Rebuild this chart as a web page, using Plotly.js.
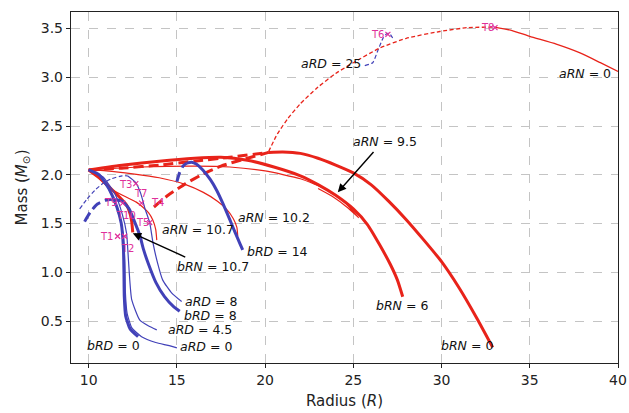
<!DOCTYPE html>
<html><head><meta charset="utf-8">
<script src="https://cdn.plot.ly/plotly-3.0.1.min.js"></script>
<style>html,body{margin:0;padding:0;background:#fff}#chart{width:629px;height:413px}</style>
</head><body><div id="chart"></div>
<script>
// ---- data (radius R, mass M_sun) ----
const bRN0_dash_x = [10.0, 12.0, 14.0, 16.0, 18.0, 20.2];
const bRN0_dash_y = [2.05, 2.07, 2.10, 2.14, 2.18, 2.23];
const bRN0_x = [20.2, 21.0, 22.0, 23.0, 24.0, 25.0, 26.0, 27.0, 28.0, 29.0, 30.0, 31.0, 32.0, 32.9];
const bRN0_y = [2.23, 2.235, 2.22, 2.17, 2.10, 2.02, 1.90, 1.73, 1.54, 1.33, 1.11, 0.84, 0.53, 0.23];
const unstThick_x = [13.7, 14.5, 15.5, 16.5, 17.5, 18.8, 20.2];
const unstThick_y = [1.67, 1.79, 1.91, 2.01, 2.09, 2.16, 2.23];
const bRN6_x = [10.0, 12.0, 14.0, 16.0, 17.5, 19.0, 20.5, 22.0, 23.0, 24.0, 25.0, 25.8, 26.5, 27.1, 27.5, 27.8];
const bRN6_y = [2.05, 2.10, 2.14, 2.17, 2.18, 2.15, 2.08, 1.99, 1.90, 1.79, 1.65, 1.49, 1.28, 1.08, 0.92, 0.75];
const aRN95_x = [10.0, 13.0, 16.0, 18.0, 20.0, 22.0, 23.5, 24.5, 25.3, 24.7, 23.8, 23.0];
const aRN95_y = [2.05, 2.08, 2.09, 2.08, 2.04, 1.96, 1.85, 1.72, 1.56, 1.66, 1.78, 1.86];
const aRN102_x = [10.0, 11.0, 12.5, 14.0, 15.5, 16.5, 17.3, 17.8, 18.2, 18.4, 18.45];
const aRN102_y = [2.05, 2.04, 2.01, 1.97, 1.90, 1.82, 1.73, 1.65, 1.55, 1.46, 1.37];
const aRN107_x = [10.0, 10.5, 11.2, 12.15, 12.7, 13.06, 13.4, 13.63, 13.8, 13.86];
const aRN107_y = [2.05, 1.98, 1.86, 1.77, 1.72, 1.67, 1.61, 1.54, 1.44, 1.33];
const bRN107_x = [10.0, 10.6, 11.2, 11.7, 12.15, 12.35, 12.44, 12.5];
const bRN107_y = [2.05, 1.97, 1.87, 1.78, 1.69, 1.60, 1.52, 1.41];
const aRN0_dash_x = [20.2, 20.7, 21.3, 22.0, 23.0, 24.0, 25.0, 26.5, 28.0, 29.9, 31.5, 33.0];
const aRN0_dash_y = [2.24, 2.42, 2.58, 2.73, 2.90, 3.04, 3.15, 3.30, 3.40, 3.47, 3.51, 3.515];
const aRN0_x = [33.0, 34.0, 35.0, 36.5, 37.85, 39.0, 40.0];
const aRN0_y = [3.515, 3.48, 3.42, 3.34, 3.25, 3.15, 3.06];

const bRD0_x = [10.0, 10.6, 11.2, 11.6, 11.85, 11.97, 12.0, 12.02, 12.1, 12.35, 12.8];
const bRD0_y = [2.05, 2.00, 1.84, 1.67, 1.50, 1.25, 1.00, 0.75, 0.55, 0.42, 0.34];
const aRD0_x = [10.0, 10.7, 11.3, 11.7, 11.95, 12.05, 12.08, 12.18, 12.45, 13.0, 13.8, 14.5, 15.0];
const aRD0_y = [2.05, 1.98, 1.80, 1.60, 1.40, 1.10, 0.80, 0.58, 0.43, 0.34, 0.28, 0.25, 0.225];
const aRD45_x = [10.0, 10.8, 11.5, 11.9, 12.15, 12.22, 12.3, 12.44, 12.9, 13.4, 13.86];
const aRD45_y = [2.05, 1.98, 1.80, 1.60, 1.40, 1.23, 1.00, 0.72, 0.51, 0.45, 0.41];
const aRD8_dash_x = [9.49, 9.9, 10.4, 10.8, 11.3, 11.9, 12.2];
const aRD8_dash_y = [1.65, 1.75, 1.85, 1.91, 1.96, 1.99, 1.99];
const aRD8_x = [12.2, 12.67, 12.95, 13.2, 13.46, 13.65, 13.9, 14.2, 14.7, 15.27];
const aRD8_y = [1.99, 1.92, 1.81, 1.65, 1.51, 1.30, 1.10, 0.92, 0.79, 0.70];
const bRD8_dash_x = [9.77, 10.1, 10.5, 11.0, 11.3];
const bRD8_dash_y = [1.52, 1.62, 1.70, 1.74, 1.75];
const bRD8_x = [11.3, 11.9, 12.3, 12.6, 12.9, 13.1, 13.4, 13.8, 14.3, 14.8, 15.16];
const bRD8_y = [1.75, 1.73, 1.65, 1.52, 1.38, 1.24, 1.08, 0.90, 0.75, 0.65, 0.60];
const bRD14_dash_x = [15.0, 15.15, 15.35, 15.55];
const bRD14_dash_y = [1.93, 2.02, 2.09, 2.12];
const bRD14_x = [15.55, 15.84, 16.1, 16.47, 16.9, 17.26, 17.6, 18.0, 18.3, 18.56, 18.73];
const bRD14_y = [2.12, 2.13, 2.11, 2.05, 1.95, 1.84, 1.71, 1.54, 1.41, 1.30, 1.23];
const aRD25_x = [25.65, 26.1, 26.4, 26.68, 26.9, 27.05, 27.24];
const aRD25_y = [3.12, 3.15, 3.28, 3.40, 3.45, 3.45, 3.40];

// transition point markers and labels
const tMark_x = [11.64, 12.04, 12.67, 13.0, 13.46, 11.93, 26.96, 33.03];
const tMark_y = [1.37, 1.37, 1.91, 1.71, 1.51, 1.71, 3.44, 3.51];
const tLabels = ['T1', 'T2', 'T3', 'T4', 'T5', 'T7', 'T9', 'T10', 'T6', 'T8'];
const tLabel_x = [11.0, 12.21, 12.10, 13.91, 13.06, 12.95, 11.25, 12.10, 26.39, 32.58];
const tLabel_y = [1.37, 1.24, 1.90, 1.72, 1.51, 1.81, 1.72, 1.58, 3.44, 3.51];

// curve labels
const curveLabels = ['aRD = 25', 'aRN = 0', 'aRN = 9.5', 'aRN = 10.2', 'aRN = 10.7', 'bRD = 14', 'bRN = 10.7', 'bRN = 6', 'bRN = 0', 'aRD = 8', 'bRD = 8', 'aRD = 4.5', 'bRD = 0', 'aRD = 0'];
const curveLabel_x = [23.73, 38.13, 26.79, 20.49, 16.18, 20.72, 17.03, 27.75, 31.44, 16.92, 16.92, 16.3, 11.42, 16.64];
const curveLabel_y = [3.14, 3.04, 2.34, 1.56, 1.44, 1.21, 1.06, 0.66, 0.25, 0.70, 0.56, 0.41, 0.25, 0.24];

// arrows: head and tail
const arrowHead_x = [24.12, 12.5];
const arrowHead_y = [1.82, 1.40];
const arrowTail_x = [26.22, 15.56];
const arrowTail_y = [2.25, 1.15];

// ---- styles ----
const RED = '#e8231a', BLUE = '#4141b8', PINK = '#e0309a';
function line(x, y, color, w, dash) {
  return {x: x, y: y, mode: 'lines', type: 'scatter', hoverinfo: 'skip', showlegend: false,
          line: {color: color, width: w, dash: dash || 'solid', shape: 'spline', smoothing: 0.5}};
}
const THICKDASH = '10px,5px', THINDASH = '4px,2.5px';
const traces = [
  line(aRD25_x, aRD25_y, BLUE, 1.2, THINDASH),
  line(aRN0_dash_x, aRN0_dash_y, RED, 1.3, THINDASH),
  line(aRN0_x, aRN0_y, RED, 1.3),
  line(bRN0_dash_x, bRN0_dash_y, RED, 3, THICKDASH),
  line(unstThick_x, unstThick_y, RED, 3, THICKDASH),
  line(bRN0_x, bRN0_y, RED, 3),
  line(bRN6_x, bRN6_y, RED, 3),
  line(aRN95_x, aRN95_y, RED, 1.2),
  line(aRN102_x, aRN102_y, RED, 1.2),
  line(aRN107_x, aRN107_y, RED, 1.2),
  line(bRN107_x, bRN107_y, RED, 3),
  line(bRD14_dash_x, bRD14_dash_y, BLUE, 3, THICKDASH),
  line(bRD14_x, bRD14_y, BLUE, 3),
  line(aRD8_dash_x, aRD8_dash_y, BLUE, 1.2, THINDASH),
  line(aRD8_x, aRD8_y, BLUE, 1.2),
  line(bRD8_dash_x, bRD8_dash_y, BLUE, 3, THICKDASH),
  line(bRD8_x, bRD8_y, BLUE, 3),
  line(aRD45_x, aRD45_y, BLUE, 1.2),
  line(aRD0_x, aRD0_y, BLUE, 1.2),
  line(bRD0_x, bRD0_y, BLUE, 3),
  {x: tMark_x, y: tMark_y, mode: 'markers', type: 'scatter', showlegend: false, hoverinfo: 'skip',
   marker: {symbol: 'x-thin', size: 5, line: {color: PINK, width: 1.2}}}
];

const annotations = [];
curveLabels.forEach((t, i) => {
  const m = t.split(' = ');
  annotations.push({x: curveLabel_x[i], y: curveLabel_y[i], xref: 'x', yref: 'y', showarrow: false,
    text: '<i>' + m[0] + '</i> = ' + m[1], font: {family: 'DejaVu Sans', size: 12.5, color: '#111'}});
});
tLabels.forEach((t, i) => {
  annotations.push({x: tLabel_x[i], y: tLabel_y[i], xref: 'x', yref: 'y', showarrow: false,
    text: t, font: {family: 'DejaVu Sans', size: 10, color: PINK}});
});
arrowHead_x.forEach((hx, i) => {
  annotations.push({x: hx, y: arrowHead_y[i], ax: arrowTail_x[i], ay: arrowTail_y[i],
    xref: 'x', yref: 'y', axref: 'x', ayref: 'y', text: '', showarrow: true,
    arrowhead: 2, arrowsize: 1.2, arrowwidth: 1.4, arrowcolor: '#000'});
});

const axisCommon = {showline: true, linecolor: '#222', linewidth: 1.2, mirror: true,
  ticks: 'outside', ticklen: 4, tickwidth: 1, tickcolor: '#222', zeroline: false,
  showgrid: true, gridcolor: '#c4c4c4', griddash: 'dash', gridwidth: 1,
  tickfont: {family: 'DejaVu Sans', size: 14, color: '#222'}};

const layout = {
  width: 629, height: 413,
  margin: {l: 71, r: 11, t: 12, b: 50},
  paper_bgcolor: '#fff', plot_bgcolor: '#fff',
  showlegend: false,
  xaxis: Object.assign({}, axisCommon, {range: [9.0, 40], tickvals: [10, 15, 20, 25, 30, 35, 40],
    title: {text: 'Radius (<i>R</i>)', font: {family: 'DejaVu Sans', size: 15, color: '#222'}, standoff: 8}}),
  yaxis: Object.assign({}, axisCommon, {range: [0.07, 3.67], tickvals: [0.5, 1.0, 1.5, 2.0, 2.5, 3.0, 3.5],
    tickformat: '.1f',
    title: {text: 'Mass (<i>M</i><sub>⊙</sub>)', font: {family: 'DejaVu Sans', size: 15, color: '#222'}, standoff: 9}}),
  annotations: annotations
};
Plotly.newPlot('chart', traces, layout, {staticPlot: true, displayModeBar: false});
</script></body></html>
